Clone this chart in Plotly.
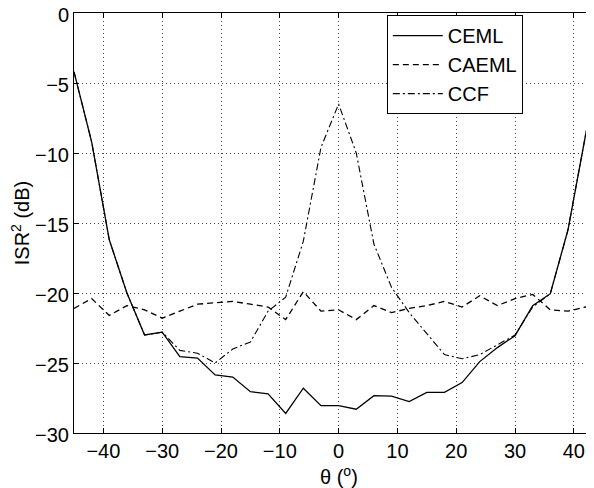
import plotly.graph_objects as go

theta = [-45, -42, -39, -36, -33, -30, -27, -24, -21, -18, -15, -12, -9, -6, -3,
         0, 3, 6, 9, 12, 15, 18, 21, 24, 27, 30, 33, 36, 39, 42, 45]

ceml = [-4.2, -9.2, -16.2, -20.0, -23.0, -22.8, -24.55, -24.65, -25.85, -26.0, -27.05, -27.2,
        -28.6, -26.8, -28.05, -28.05, -28.3, -27.33, -27.36, -27.76, -27.1, -27.1, -26.4,
        -24.9, -23.9, -23.05, -20.9, -20.05, -15.5, -8.7, -2.5]

caeml = [-21.1, -20.4, -21.6, -20.9, -21.2, -21.8, -21.3, -20.8, -20.7, -20.6, -20.8, -21.0,
         -21.9, -19.9, -21.3, -21.2, -21.9, -20.9, -21.4, -21.1, -20.9, -20.6, -21.0, -20.2,
         -20.9, -20.4, -20.1, -21.2, -21.3, -21.0, -21.2]

ccf = [-4.2, -9.2, -16.2, -20.0, -23.0, -22.8, -24.1, -24.3, -25.0, -24.0, -23.5, -21.3,
       -20.3, -16.3, -9.6, -6.5, -10.0, -16.5, -19.6, -21.4, -22.9, -24.4, -24.7, -24.4,
       -23.7, -23.0, -21.0, -20.05, -15.5, -8.7, -2.5]

xticks = [-40, -30, -20, -10, 0, 10, 20, 30, 40]
yticks = [0, -5, -10, -15, -20, -25, -30]

fig = go.Figure()
fig.add_trace(go.Scatter(x=theta, y=ceml, mode="lines", name="CEML",
                         line=dict(color="black", width=1.3, dash="solid")))
fig.add_trace(go.Scatter(x=theta, y=caeml, mode="lines", name="CAEML",
                         line=dict(color="black", width=1.3, dash="6px,4px")))
fig.add_trace(go.Scatter(x=theta, y=ccf, mode="lines", name="CCF",
                         line=dict(color="black", width=1.1, dash="7px,3px,2px,3px")))

font_family = "Liberation Sans, Arial, Helvetica, sans-serif"

# the page body has an 8px margin; the figure is sized/offset to account for it
fig.update_layout(
    width=578, height=480,
    margin=dict(l=66, r=0, t=5, b=55, autoexpand=False),
    paper_bgcolor="white", plot_bgcolor="white",
    font=dict(family=font_family, size=20, color="black"),
    showlegend=True,
    legend=dict(x=0.611, y=0.995, xanchor="left", yanchor="top",
                bgcolor="white", bordercolor="black", borderwidth=1,
                font=dict(size=20), tracegroupgap=0, itemwidth=50),
    xaxis=dict(range=[-45, 42.07], tickvals=xticks, ticks="inside", ticklen=5,
               tickcolor="black", showline=True, linecolor="black", linewidth=1,
               mirror="ticks", showgrid=True, gridcolor="#444", griddash="1px,3px",
               gridwidth=1, zeroline=False, automargin=False, ticklabeloverflow="allow"),
    yaxis=dict(range=[-30, 0], tickvals=yticks, ticks="inside", ticklen=5,
               tickcolor="black", showline=True, linecolor="black", linewidth=1,
               mirror=False, showgrid=True, gridcolor="#444", griddash="1px,3px",
               gridwidth=1, zeroline=False, automargin=False, ticklabeloverflow="allow",
               ticklabelshift=2,
               title=dict(text="ISR<sup>2</sup> (dB)", standoff=2, font=dict(size=20))),
    annotations=[dict(text="θ (<sup>o</sup>)", xref="x", x=0, yref="paper", y=-0.1,
                      xanchor="center", yanchor="middle", showarrow=False,
                      font=dict(size=20))],
)

fig.write_html("out.html")
